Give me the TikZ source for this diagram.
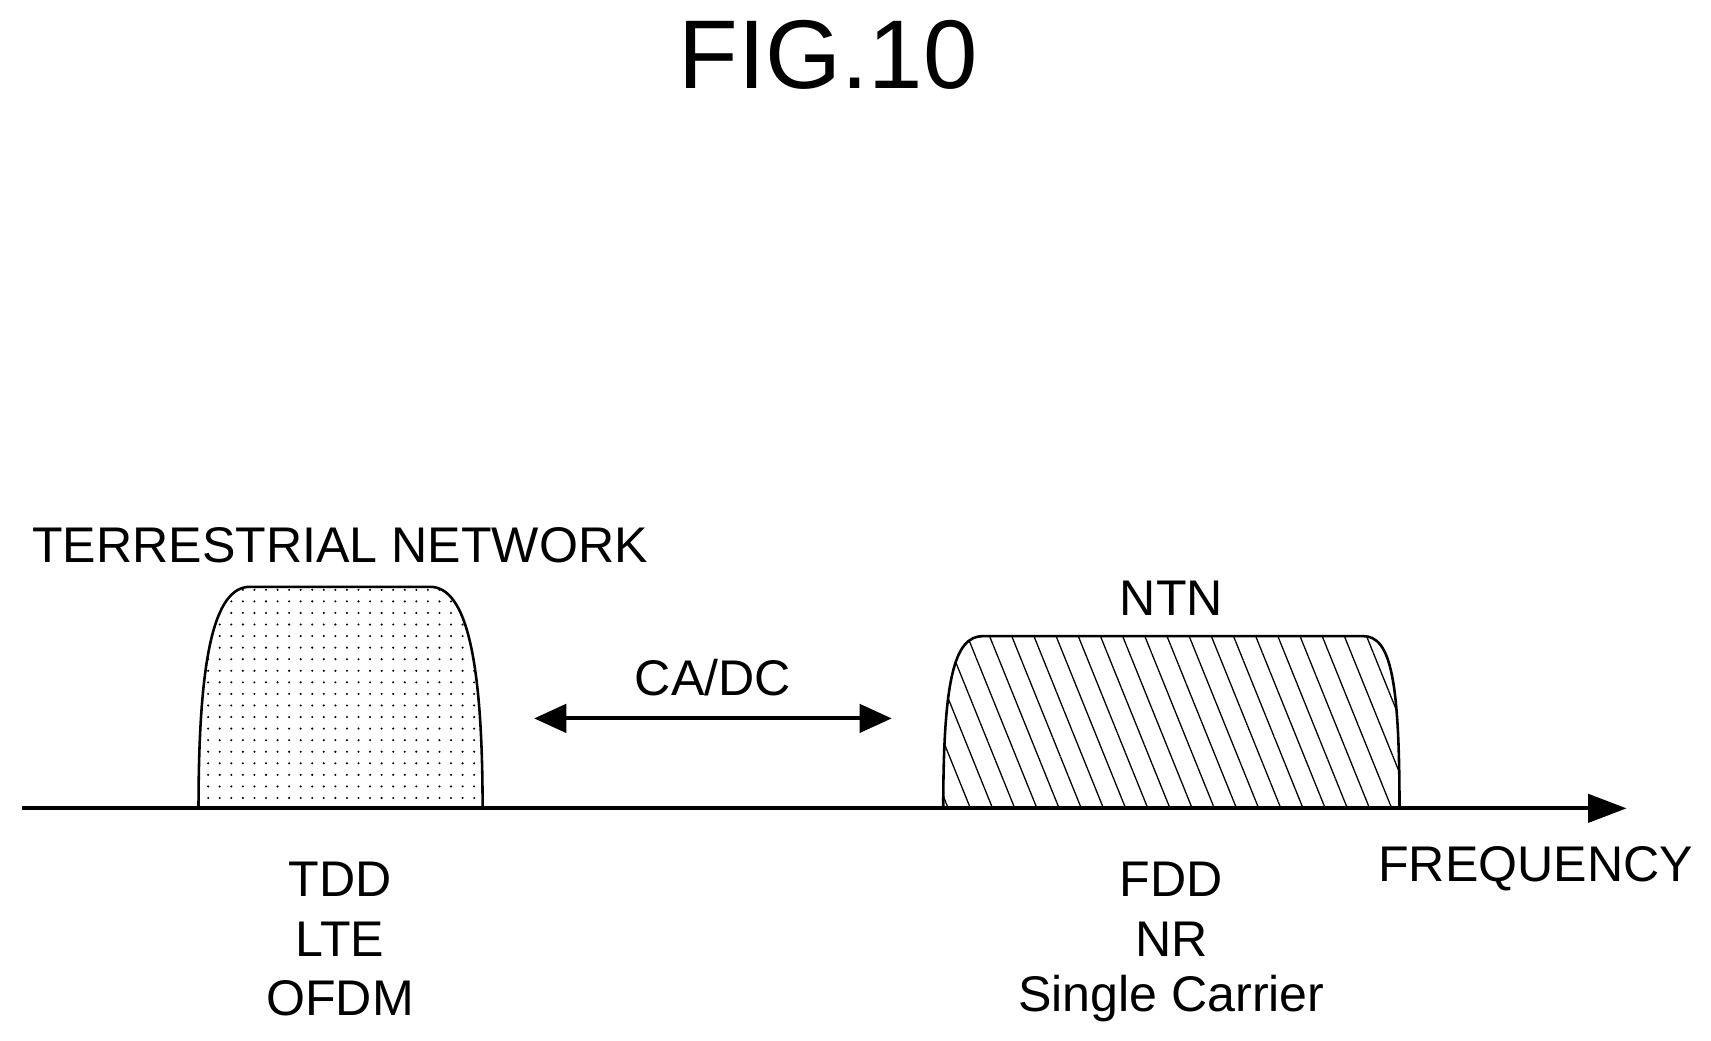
\documentclass[tikz,border=0pt]{standalone}
\usepackage{fontspec}
\setmainfont{Liberation Sans}
\usetikzlibrary{arrows.meta,patterns.meta}
\tikzstyle{lbl}=[inner sep=0pt, font=\fontsize{39}{46}\selectfont]
\tikzstyle{band}=[draw,line width=2pt]
\tikzstyle{axis}=[draw,line width=3pt,-{Triangle[length=30pt,width=22pt]}]
\tikzstyle{dedge}=[draw,line width=3pt,{Triangle[length=25pt,width=22pt]}-{Triangle[length=25pt,width=22pt]}]

\begin{document}
\begin{tikzpicture}[x=0.03cm,y=-0.03cm]
      \useasboundingbox (0,0) rectangle (1560,949);

      \node[inner sep=0pt,font=\fontsize{76}{84}\selectfont] (fig) at (755,50) {FIG.10};

      % bands
      \path[band,pattern={Dots[distance=9pt,radius=0.9pt]}] (181,737) .. controls (181,600) and (195,535) .. (228,535)
        -- (392,535) .. controls (425,535) and (440,600) .. (440,737);
      \path[band,pattern={Lines[angle=-68,distance=16pt,line width=1pt]}] (860,737) .. controls (860,620) and (870,580) .. (896,580)
        -- (1243,580) .. controls (1268,580) and (1276,620) .. (1276,737);

      \coordinate (a0) at (20,737);
      \coordinate (a1) at (1483,737);
      \path[axis] (a0) -- (a1);

      \coordinate (c0) at (487,655);
      \coordinate (c1) at (813,655);
      \path[dedge] (c0) -- (c1);

      \node[lbl] (cadc) at (650,618) {CA/DC};
      \node[lbl] (tn) at (310,497) {TERRESTRIAL NETWORK};
      \node[lbl] (ntn) at (1068,545) {NTN};
      \node[lbl] (freq) at (1400,792) {FREQUENCY};

      \node[lbl] (tdd) at (310,802) {TDD};
      \node[lbl] (lte) at (310,856) {LTE};
      \node[lbl] (ofdm) at (310,910) {OFDM};

      \node[lbl] (fdd) at (1068,802) {FDD};
      \node[lbl] (nr) at (1068,856) {NR};
      \node[lbl] (sc) at (1068,910) {Single Carrier};

\end{tikzpicture}
\end{document}
